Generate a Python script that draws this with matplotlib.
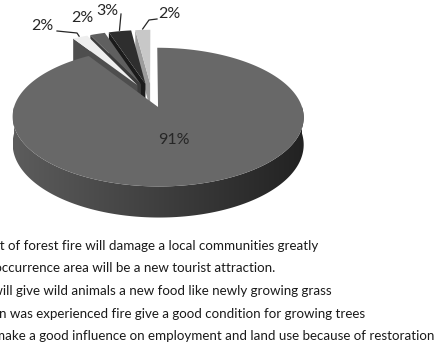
import numpy as np
import matplotlib
matplotlib.use("Agg")
import matplotlib.pyplot as plt
from matplotlib.patches import Polygon
from matplotlib.colors import LinearSegmentedColormap

# slice shares in percent, drawn clockwise from 12 o'clock
shares = [91, 2, 2, 3, 2]
pct_labels = ["91%", "2%", "2%", "3%", "2%"]
legend_labels = [
    "The effect of forest fire will damage a local communities greatly",
    "Forest fire occurrence area will be a new tourist attraction.",
    "Forest fire will give wild animals a new food like newly growing grass",
    "The burned region was experienced fire give a good condition for growing trees",
    "Forest fire will make a good influence on employment and land use because of restoration",
]

top_colors = ["#686868", "#eeeeee", "#5f5f5f", "#2e2e2e", "#c8c8c8"]
cut_colors = ["#474747", "#4e4e4e", "#3c3c3c", "#1b1b1b", "#9c9c9c"]
explode = [0.15, 0.22, 0.22, 0.22, 0.22]

W, H = 441, 347
CX, CY = 152.0, 97.4      # pie centre (pixels)
RX, RY = 141.0, 65.1      # half axes of the top ellipse
PERSP = 0.143             # back of the pie looks smaller
DEPTH = 26.0              # thickness of the pie

FONT = ["Lato", "DejaVu Sans"]


def proj(X, Y, z=0.0):
    k = 1.0 + PERSP * Y
    return CX + RX * X / k, CY - RY * Y / k + DEPTH * z / k


fig = plt.figure(figsize=(W / 100, H / 100), dpi=100)
ax = fig.add_axes([0, 0, 1, 1])
ax.set_axis_off()

# slice angles (degrees), clockwise from 90
bounds = []
start = 90.0
for v in shares:
    end = start - 360.0 * v / 100.0
    bounds.append((end, start))
    start = end


def offset(i):
    a0, a1 = bounds[i]
    mid = np.radians((a0 + a1) / 2)
    return explode[i] * np.cos(mid), explode[i] * np.sin(mid)


def rim(i, ang, r=1.0):
    dx, dy = offset(i)
    t = np.radians(ang)
    return dx + r * np.cos(t), dy + r * np.sin(t)


# small slices at the back first
for i in range(len(shares) - 1, 0, -1):
    a0, a1 = bounds[i]
    dx, dy = offset(i)
    ex, ey = rim(i, a1)
    face = [proj(dx, dy, 0), proj(ex, ey, 0), proj(ex, ey, 1), proj(dx, dy, 1)]
    ax.add_patch(Polygon(face, closed=True, fc=cut_colors[i], ec="none"))
    angs = np.linspace(a0, a1, 30)
    pts = [proj(dx, dy)] + [proj(*rim(i, a)) for a in angs]
    ax.add_patch(Polygon(pts, closed=True, fc=top_colors[i], ec="none"))

# big slice: curved side with shading, then top
a0, a1 = bounds[0]
dx, dy = offset(0)
front = np.linspace(-180, 0, 240)
side = [proj(*rim(0, a), 0) for a in front] + [proj(*rim(0, a), 1) for a in front[::-1]]
side_patch = Polygon(side, closed=True, fc="none", ec="none")
ax.add_patch(side_patch)
xs = [p[0] for p in side]
ys = [p[1] for p in side]
shade = LinearSegmentedColormap.from_list("shade", ["#5c5c5c", "#3f3f3f", "#222222"])
img = ax.imshow(np.linspace(0, 1, 256).reshape(1, -1), cmap=shade, aspect="auto",
                extent=(min(xs), max(xs), max(ys), min(ys)), interpolation="bilinear")
img.set_clip_path(side_patch)

angs = np.linspace(a0, a1, 400)
pts = [proj(dx, dy)] + [proj(*rim(0, a)) for a in angs]
ax.add_patch(Polygon(pts, closed=True, fc=top_colors[0], ec="none"))

# percentage labels
label_pos = [(174, 140), (42, 26), (82, 18), (107, 11), (169, 14)]
for i, s in enumerate(pct_labels):
    ax.text(*label_pos[i], s, ha="center", va="center", fontsize=11.5,
            family=FONT, color="#262626")

# leader lines
leaders = {1: [(57, 31), (77, 33)], 3: [(121, 14)], 4: [(157, 19), (149, 20)]}
for i, pts in leaders.items():
    a0, a1 = bounds[i]
    end = proj(*rim(i, (a0 + a1) / 2, 1.02))
    path = pts + [end]
    ax.plot([p[0] for p in path], [p[1] for p in path], color="#262626", lw=0.9)

ax.set_xlim(0, W)
ax.set_ylim(H, 0)

# legend text, cropped by the left edge of the picture
fig.canvas.draw()
renderer = fig.canvas.get_renderer()
cut_prefix = ["The effec", "Forest fire o", "Forest fire w", "The burned regio", "Forest fire will m"]
cut_x = [0.0, 1.5, 3.0, -1.0, 5.0]
row_y = [246, 268.5, 291, 313.5, 336]
for i, s in enumerate(legend_labels):
    t = ax.text(0, 0, cut_prefix[i], fontsize=9.6, family=FONT)
    w = t.get_window_extent(renderer).width
    t.remove()
    ax.text(cut_x[i] - w, row_y[i], s, ha="left", va="center", fontsize=9.6,
            family=FONT, color="#1a1a1a", clip_on=False)

fig.savefig("out.png", dpi=100)
